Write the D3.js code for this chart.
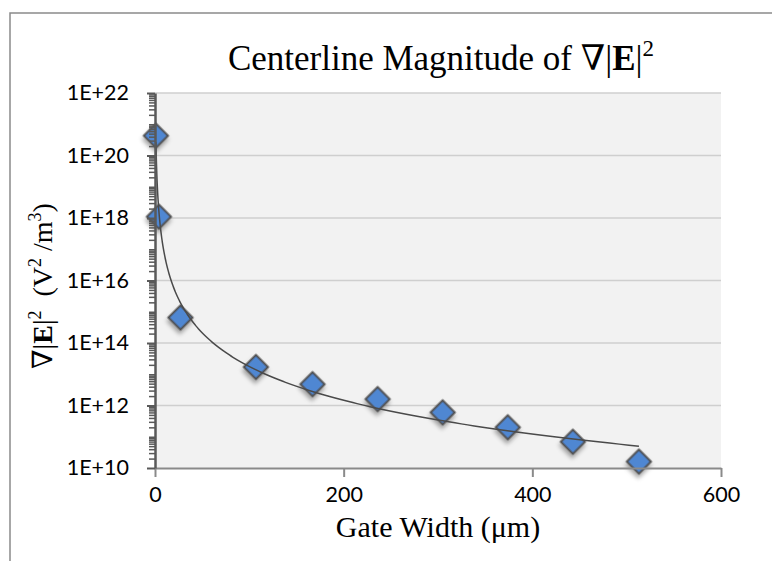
<!DOCTYPE html>
<html>
<head>
<meta charset="utf-8">
<script src="https://cdn.jsdelivr.net/npm/d3@7"></script>
<style>
  html, body { margin: 0; padding: 0; background: #fff; }
  svg { display: block; }
</style>
</head>
<body>
<svg id="chart" width="772" height="561"></svg>
<script>
// ---- data ----
const gateWidth = [1, 4.2, 27, 107, 167, 236, 305, 374, 443, 513];          // µm
const gradE2 = [4.3e20, 1.1e18, 6.5e14, 1.7e13, 4.8e12, 1.6e12, 6.0e11, 2.0e11, 6.9e10, 1.6e10];
const xTickValues = [0, 200, 400, 600];
const yTickValues = [1e10, 1e12, 1e14, 1e16, 1e18, 1e20, 1e22];
const yTickLabels = ["1E+10", "1E+12", "1E+14", "1E+16", "1E+18", "1E+20", "1E+22"];

const svg = d3.select("#chart");
const W = 772, H = 561;
const plot = { left: 155, right: 721, top: 93, bottom: 468 };

// outer chart frame (extends beyond window on right/bottom)
svg.append("rect")
  .attr("x", 10).attr("y", 13).attr("width", 800).attr("height", 600)
  .attr("fill", "#fff").attr("stroke", "#8a8a8a").attr("stroke-width", 1.5);

const x = d3.scaleLinear().domain([0, 600]).range([plot.left, plot.right]);
const y = d3.scaleLog().domain([1e10, 1e22]).range([plot.bottom, plot.top]);

// plot background
svg.append("rect")
  .attr("x", plot.left).attr("y", plot.top)
  .attr("width", plot.right - plot.left).attr("height", plot.bottom - plot.top)
  .attr("fill", "#f2f2f2");

// gridlines
svg.append("g").selectAll("line")
  .data(yTickValues.slice(1))
  .join("line")
  .attr("x1", plot.left).attr("x2", plot.right)
  .attr("y1", d => y(d)).attr("y2", d => y(d))
  .attr("stroke", "#cfcfcf").attr("stroke-width", 1.5);

// defs: shadow
const defs = svg.append("defs");
const f = defs.append("filter").attr("id", "shadow").attr("x", "-50%").attr("y", "-50%").attr("width", "200%").attr("height", "200%");
f.append("feDropShadow").attr("dx", 2).attr("dy", 3).attr("stdDeviation", 2)
  .attr("flood-color", "#000").attr("flood-opacity", 0.35);

// markers
svg.append("g").selectAll("path")
  .data(gateWidth.map((g, i) => [g, gradE2[i]]))
  .join("path")
  .attr("d", d3.symbol().type(d3.symbolSquare).size(290))
  .attr("transform", d => `translate(${x(d[0])},${y(d[1])}) rotate(45)`)
  .attr("fill", "#4f87d2").attr("stroke", "#505050").attr("stroke-width", 2)
  .attr("filter", "url(#shadow)");

// power trendline (least squares in log-log space, as in the source)
const lx = gateWidth.map(Math.log10), ly = gradE2.map(Math.log10);
const mx = d3.mean(lx), my = d3.mean(ly);
const b = d3.sum(lx.map((v, i) => (v - mx) * (ly[i] - my))) / d3.sum(lx.map(v => (v - mx) ** 2));
const a = my - b * mx;
const xmin = d3.min(gateWidth), xmax = d3.max(gateWidth);
const trend = d3.range(0, 301).map(i => {
  const t = i / 300;
  const gx = Math.exp(Math.log(xmin) + t * (Math.log(xmax) - Math.log(xmin)));
  return [gx, Math.pow(10, a + b * Math.log10(gx))];
});
svg.append("path")
  .datum(trend)
  .attr("d", d3.line().x(d => x(d[0])).y(d => y(Math.min(d[1], 1e22))))
  .attr("fill", "none").attr("stroke", "#4a4a4a").attr("stroke-width", 1.5);

// x axis
const xAxis = svg.append("g")
  .attr("transform", `translate(0,${plot.bottom})`)
  .call(d3.axisBottom(x).tickValues(xTickValues).tickSize(9).tickSizeOuter(0).tickPadding(10));
xAxis.select(".domain").attr("stroke", "#8a8a8a").attr("stroke-width", 2);
xAxis.selectAll(".tick line").attr("stroke", "#8a8a8a").attr("stroke-width", 2);
xAxis.selectAll(".tick text")
  .attr("font-family", "Lato, 'Open Sans', sans-serif").attr("font-size", 21.5).attr("fill", "#000");

// y minor ticks
const minors = [];
for (let e = 10; e < 22; e++) for (let k = 2; k <= 9; k++) minors.push(k * Math.pow(10, e));
for (let e = 11; e < 22; e += 2) minors.push(Math.pow(10, e));
const yMinor = svg.append("g")
  .attr("transform", `translate(${plot.left},0)`)
  .call(d3.axisLeft(y).tickValues(minors).tickSize(6).tickSizeOuter(0).tickFormat(""));
yMinor.select(".domain").remove();
yMinor.selectAll(".tick line").attr("stroke", "#595959").attr("stroke-width", 1.5);

// y axis majors
const yAxis = svg.append("g")
  .attr("transform", `translate(${plot.left},0)`)
  .call(d3.axisLeft(y).tickValues(yTickValues).tickSize(8).tickSizeOuter(0).tickPadding(18)
    .tickFormat((d, i) => yTickLabels[i]));
yAxis.select(".domain").attr("stroke", "#595959").attr("stroke-width", 2.5);
yAxis.selectAll(".tick line").attr("stroke", "#595959").attr("stroke-width", 2);
yAxis.selectAll(".tick text")
  .attr("font-family", "Lato, 'Open Sans', sans-serif").attr("font-size", 21.5).attr("fill", "#000");

// title
const serif = "'Liberation Serif', 'Times New Roman', 'DejaVu Serif', serif";
const title = svg.append("text")
  .attr("x", 441).attr("y", 70).attr("text-anchor", "middle")
  .attr("font-family", serif).attr("font-size", 35).attr("fill", "#000");
title.append("tspan").text("Centerline Magnitude of \u2207|");
title.append("tspan").attr("font-weight", "bold").text("E");
title.append("tspan").text("|");
title.append("tspan").attr("font-size", 23).attr("dy", -14).text("2");

// x axis title
svg.append("text")
  .attr("x", 438).attr("y", 537).attr("text-anchor", "middle")
  .attr("font-family", serif).attr("font-size", 30).attr("fill", "#000")
  .text("Gate Width (\u03bcm)");

// y axis title
const yt = svg.append("text")
  .attr("transform", "translate(52,286) rotate(-90)")
  .attr("text-anchor", "middle")
  .attr("font-family", serif).attr("font-size", 28).attr("fill", "#000");
yt.append("tspan").text("\u2207|");
yt.append("tspan").attr("font-weight", "bold").text("E");
yt.append("tspan").text("|");
yt.append("tspan").attr("font-size", 18).attr("dy", -11).text("2");
yt.append("tspan").attr("dy", 11).text("\u00a0\u00a0(V");
yt.append("tspan").attr("font-size", 18).attr("dy", -11).text("2");
yt.append("tspan").attr("dy", 11).text(" /m");
yt.append("tspan").attr("font-size", 18).attr("dy", -11).text("3");
yt.append("tspan").attr("dy", 11).text(")");
</script>
</body>
</html>
